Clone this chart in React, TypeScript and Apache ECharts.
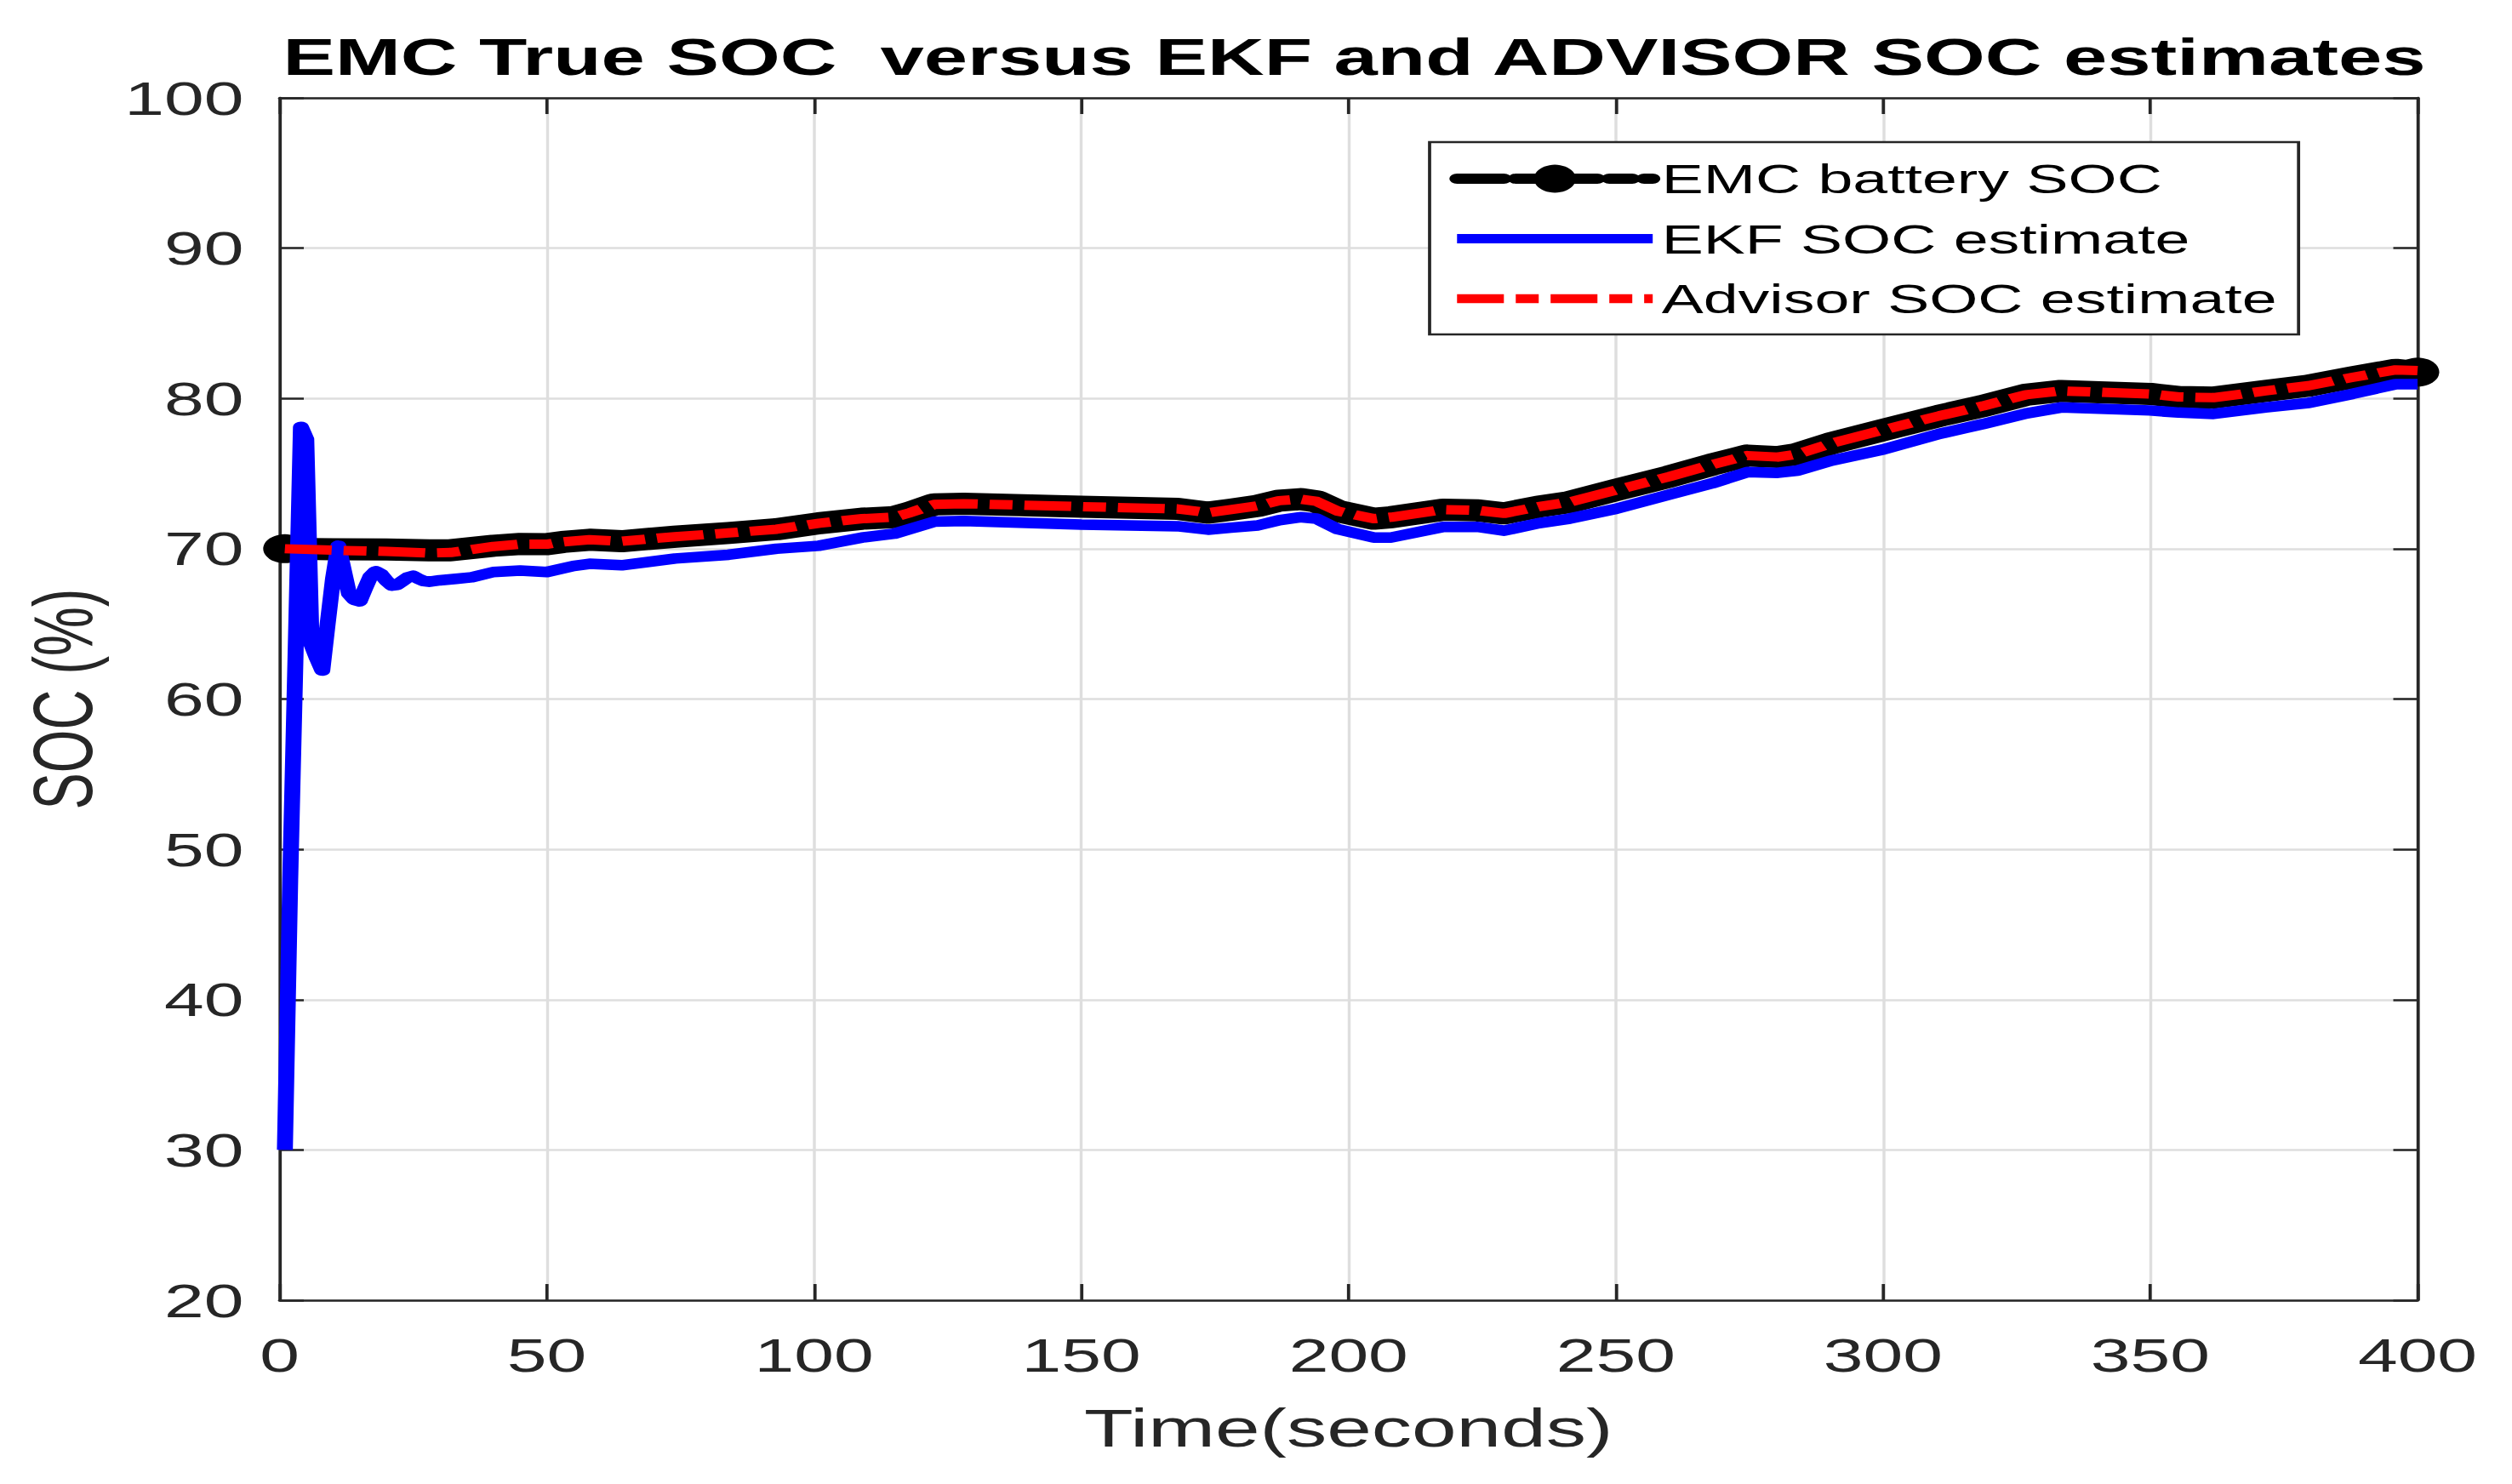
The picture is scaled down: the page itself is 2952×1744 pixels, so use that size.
import React, { useEffect, useRef } from "react";
import * as echarts from "echarts";

const PAGE_W = 2952;
const PAGE_H = 1744;
const STRETCH = 1.5; // the reference figure is stretched horizontally
const CHART_W = PAGE_W / STRETCH;

const CHART_TITLE = "EMC True SOC  versus EKF and ADVISOR SOC estimates";
const X_NAME = "Time(seconds)";
const Y_NAME = "SOC (%)";
const SERIES_NAMES = ["EMC battery SOC", "EKF SOC estimate", "Advisor SOC estimate"];

const xTicks = [0, 50, 100, 150, 200, 250, 300, 350, 400];
const yTicks = [20, 30, 40, 50, 60, 70, 80, 90, 100];

const emcTime = [1, 10, 20, 28, 32, 40, 45, 50, 53, 58, 64, 74, 84, 93, 101, 109, 115, 118, 122.5, 128, 150, 168, 173.7, 178, 183, 187, 191, 194, 198, 204.7, 208, 217.7, 224.2, 229.1, 235.6, 241.3, 250, 260, 268, 274.6, 280.3, 284, 290.2, 300, 310.6, 318.7, 326.8, 333.3, 350, 355.3, 361.8, 371.5, 379.6, 387.8, 395.9, 400];
const emcSoc = [70.0, 69.97, 69.95, 69.9, 69.9, 70.2, 70.32, 70.3, 70.45, 70.6, 70.5, 70.8, 71.05, 71.3, 71.7, 72.0, 72.1, 72.4, 72.95, 73.0, 72.8, 72.65, 72.4, 72.6, 72.85, 73.2, 73.3, 73.15, 72.5, 72.0, 72.1, 72.6, 72.55, 72.35, 72.8, 73.1, 73.9, 74.8, 75.6, 76.2, 76.1, 76.3, 77.0, 77.9, 78.85, 79.5, 80.25, 80.5, 80.3, 80.1, 80.05, 80.5, 80.85, 81.4, 81.9, 81.75];

const advisorTime = [1, 10, 20, 28, 32, 40, 45, 50, 53, 58, 64, 74, 84, 93, 101, 109, 115, 118, 122.5, 128, 150, 168, 173.7, 178, 183, 187, 191, 194, 198, 204.7, 208, 217.7, 224.2, 229.1, 235.6, 241.3, 250, 260, 268, 274.6, 280.3, 284, 290.2, 300, 310.6, 318.7, 326.8, 333.3, 350, 355.3, 361.8, 371.5, 379.6, 387.8, 395.9, 400];
const advisorSoc = [70.0, 69.9, 69.82, 69.72, 69.75, 70.15, 70.3, 70.3, 70.45, 70.6, 70.5, 70.8, 71.05, 71.3, 71.7, 72.0, 72.1, 72.4, 72.95, 73.0, 72.8, 72.65, 72.4, 72.6, 72.85, 73.2, 73.3, 73.15, 72.5, 72.0, 72.1, 72.6, 72.55, 72.35, 72.8, 73.1, 73.9, 74.8, 75.6, 76.2, 76.1, 76.3, 77.0, 77.9, 78.85, 79.5, 80.25, 80.5, 80.3, 80.1, 80.05, 80.5, 80.85, 81.4, 81.9, 81.85];

const ekfTime = [1, 2, 3, 4, 5, 6, 7, 8, 9, 10, 11, 12, 13, 14, 15, 16, 17, 18, 19, 20, 21, 22, 23, 24, 25, 26, 27, 28, 30, 33, 36, 40, 45, 50, 55, 58, 64, 74, 84, 93, 101, 109, 115, 122.5, 128, 150, 168, 173.7, 178, 183, 187, 191, 194, 198, 204.7, 208, 217.7, 224.2, 229.1, 235.6, 241.3, 250, 260, 268, 274.6, 280.3, 284, 290.2, 300, 310.6, 318.7, 326.8, 333.3, 350, 355.3, 361.8, 371.5, 379.6, 387.8, 395.9, 400];
const ekfSoc = [30, 48, 63, 78.1, 77.3, 63.6, 62.7, 61.9, 65.0, 68.0, 70.2, 68.6, 67.0, 66.6, 66.5, 67.35, 68.15, 68.5, 68.3, 67.87, 67.55, 67.6, 67.85, 68.1, 68.2, 68.0, 67.85, 67.8, 67.9, 68.0, 68.1, 68.45, 68.55, 68.45, 68.85, 69.0, 68.9, 69.35, 69.6, 70.0, 70.2, 70.75, 71.0, 71.8, 71.85, 71.6, 71.5, 71.27, 71.4, 71.55, 71.9, 72.1, 72.0, 71.3, 70.75, 70.75, 71.45, 71.45, 71.2, 71.7, 72.0, 72.65, 73.6, 74.35, 75.1, 75.05, 75.2, 75.85, 76.6, 77.65, 78.3, 79.0, 79.4, 79.2, 79.06, 78.97, 79.4, 79.7, 80.3, 80.95, 80.95];

const FONT = '"Liberation Sans", Arial, Helvetica, sans-serif';
const AXIS_COLOR = "#262626";
const GRID_COLOR = "#dedede";
const DASH_DOT = [36.7, 9.3, 18, 9.3];

function secondaryAxis(kind: "x" | "y") {
  const ticks = kind === "x" ? xTicks : yTicks;
  return {
    type: "value",
    min: ticks[0],
    max: ticks[ticks.length - 1],
    interval: ticks[1] - ticks[0],
    position: kind === "x" ? "top" : "right",
    axisLine: { show: true, onZero: false, lineStyle: { color: AXIS_COLOR, width: 2.5 } },
    axisTick: { show: true, inside: true, length: 19, lineStyle: { color: AXIS_COLOR, width: 2.5 } },
    axisLabel: { show: false },
    splitLine: { show: false },
  };
}

export default function App() {
  const ref = useRef<HTMLDivElement>(null);

  useEffect(() => {
    document.body.style.margin = "0";
    if (!ref.current) return;
    const chart = echarts.init(ref.current, undefined, { renderer: "svg" });

    const option = {
      animation: false,
      backgroundColor: "#ffffff",
      title: {
        text: CHART_TITLE,
        left: 1061,
        top: 35.5,
        textAlign: "center",
        padding: 0,
        textStyle: { fontFamily: FONT, fontSize: 61.5, fontWeight: "bold", color: "#000000" },
      },
      grid: { left: 219, top: 115, width: 1675, height: 1413, containLabel: false },
      xAxis: [
        {
          type: "value",
          min: xTicks[0],
          max: xTicks[xTicks.length - 1],
          interval: xTicks[1] - xTicks[0],
          position: "bottom",
          name: X_NAME,
          nameLocation: "middle",
          nameGap: 119,
          nameTextStyle: { fontFamily: FONT, fontSize: 63, color: AXIS_COLOR },
          axisLine: { show: true, onZero: false, lineStyle: { color: AXIS_COLOR, width: 2.5 } },
          axisTick: { show: true, inside: true, length: 19, lineStyle: { color: AXIS_COLOR, width: 2.5 } },
          axisLabel: { margin: 36, fontFamily: FONT, fontSize: 56, color: AXIS_COLOR },
          splitLine: { show: true, lineStyle: { color: GRID_COLOR, width: 2.3 } },
        },
        secondaryAxis("x"),
      ],
      yAxis: [
        {
          type: "value",
          min: yTicks[0],
          max: yTicks[yTicks.length - 1],
          interval: yTicks[1] - yTicks[0],
          position: "left",
          name: Y_NAME,
          nameLocation: "middle",
          nameRotate: 90,
          nameGap: 137,
          nameTextStyle: { fontFamily: FONT, fontSize: 65, color: AXIS_COLOR },
          axisLine: { show: true, onZero: false, lineStyle: { color: AXIS_COLOR, width: 2.5 } },
          axisTick: { show: true, inside: true, length: 19, lineStyle: { color: AXIS_COLOR, width: 2.5 } },
          axisLabel: { margin: 28, fontFamily: FONT, fontSize: 56, color: AXIS_COLOR },
          splitLine: { show: true, lineStyle: { color: GRID_COLOR, width: 2.6 } },
        },
        secondaryAxis("y"),
      ],
      legend: {
        orient: "vertical",
        left: 1120,
        top: 167,
        padding: [18, 17, 17, 15.5],
        itemGap: 20.5,
        itemWidth: 153.3,
        itemHeight: 41,
        backgroundColor: "#ffffff",
        borderColor: AXIS_COLOR,
        borderWidth: 2.5,
        textStyle: { fontFamily: FONT, fontSize: 49, lineHeight: 50, color: "#000000", padding: [0, 0, 0, 2] },
        data: [
          { name: SERIES_NAMES[0], lineStyle: { width: 12, type: DASH_DOT, color: "#000000" }, itemStyle: { color: "#000000" } },
          { name: SERIES_NAMES[1], lineStyle: { width: 11, type: "solid", color: "#0000ff" }, itemStyle: { opacity: 0 } },
          { name: SERIES_NAMES[2], lineStyle: { width: 10.5, type: DASH_DOT, color: "#ff0000" }, itemStyle: { opacity: 0 } },
        ],
      },
      series: [
        {
          name: SERIES_NAMES[0],
          type: "line",
          xAxisIndex: 0,
          yAxisIndex: 0,
          symbol: "circle",
          showSymbol: true,
          data: emcTime.map((t, i) => ({
            value: [t, emcSoc[i]],
            symbolSize: i === 0 || i === emcTime.length - 1 ? 34 : 0,
          })),
          lineStyle: { color: "#000000", width: 26, join: "round", cap: "round" },
          itemStyle: { color: "#000000" },
          z: 2,
        },
        {
          name: SERIES_NAMES[1],
          type: "line",
          xAxisIndex: 0,
          yAxisIndex: 0,
          symbol: "none",
          data: ekfTime.map((t, i) => [t, ekfSoc[i]]),
          lineStyle: { color: "#0000ff", width: 12.5, join: "round" },
          itemStyle: { color: "#0000ff" },
          z: 3,
        },
        {
          name: SERIES_NAMES[2],
          type: "line",
          xAxisIndex: 0,
          yAxisIndex: 0,
          symbol: "none",
          data: advisorTime.map((t, i) => [t, advisorSoc[i]]),
          lineStyle: { color: "#ff0000", width: 11, type: DASH_DOT, cap: "butt", join: "round" },
          itemStyle: { color: "#ff0000" },
          z: 4,
        },
      ],
    };

    chart.setOption(option as any);
    return () => {
      chart.dispose();
    };
  }, []);

  return (
    <div
      style={{
        position: "fixed",
        left: 0,
        top: 0,
        width: PAGE_W,
        height: PAGE_H,
        overflow: "hidden",
        background: "#ffffff",
      }}
    >
      <div
        ref={ref}
        style={{
          width: CHART_W,
          height: PAGE_H,
          transform: `scaleX(${STRETCH})`,
          transformOrigin: "0 0",
        }}
      />
    </div>
  );
}
